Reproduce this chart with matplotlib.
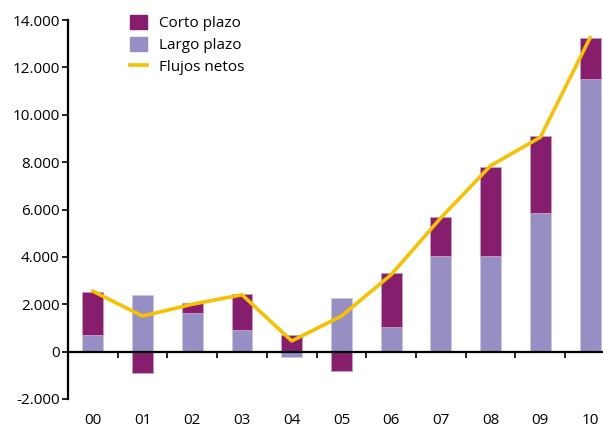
import numpy as np
import matplotlib.pyplot as plt
from matplotlib.patches import Patch
from matplotlib.lines import Line2D

years = ['00', '01', '02', '03', '04', '05', '06', '07', '08', '09', '10']
corto = [1800, -900, 400, 1500, 690, -800, 2250, 1650, 3750, 3250, 1750]
largo = [700, 2400, 1650, 930, -240, 2250, 1050, 4050, 4050, 5850, 11500]
flujos = [2550, 1500, 2000, 2400, 450, 1500, 3250, 5650, 7850, 9050, 13250]

c_corto = '#861D6D'
c_largo = '#978FC3'
c_line = '#F8C100'

plt.rcParams['font.family'] = ['Open Sans', 'DejaVu Sans']

fig = plt.figure(figsize=(6.03, 4.29), dpi=100)
ax = fig.add_axes([68 / 603, 1 - 399 / 429, 535 / 603, 379 / 429])

x = np.arange(len(years))
w = 0.42
corto = np.array(corto)
largo = np.array(largo)

# corto sits on top of largo when both have the same sign, otherwise starts at zero
corto_bottom = np.where(np.sign(corto) == np.sign(largo), largo, 0)
ax.bar(x, largo, w, color=c_largo, edgecolor='#c9c3e6', linewidth=0.6, zorder=2)
ax.bar(x, corto, w, bottom=corto_bottom, color=c_corto, edgecolor='#c9a0c0', linewidth=0.6, zorder=2)
ax.plot(x, flujos, color=c_line, lw=2.6, zorder=3, solid_joinstyle='round')

ax.set_xlim(-0.5, 10.26)
ax.set_ylim(-2000, 14000)
ax.set_yticks(range(-2000, 14001, 2000))
ax.set_yticklabels([f'{v:,}'.replace(',', '.') for v in range(-2000, 14001, 2000)])

ax.spines['top'].set_visible(False)
ax.spines['right'].set_visible(False)
ax.spines['bottom'].set_position(('data', 0))
ax.spines['bottom'].set_linewidth(1.6)
ax.spines['left'].set_linewidth(1.6)

ax.set_xticks(x)
ax.set_xticklabels(years)
ax.set_xticks(np.arange(0.5, 10, 1), minor=True)
ax.tick_params(axis='x', which='major', length=0, pad=44, labelsize=11)
ax.tick_params(axis='x', which='minor', length=4, width=1.2, direction='out')
ax.tick_params(axis='y', length=4, width=1.2, labelsize=11, pad=2)

handles = [Patch(color=c_corto), Patch(color=c_largo), Line2D([], [], color=c_line, lw=2.6)]
ax.legend(handles, ['Corto plazo', 'Largo plazo', 'Flujos netos'], loc='upper left',
          bbox_to_anchor=(0.09, 1.05), frameon=False, fontsize=11,
          handlelength=1.1, handleheight=1.1, handletextpad=0.8, labelspacing=0.35)

fig.savefig('out.png', dpi=100)
